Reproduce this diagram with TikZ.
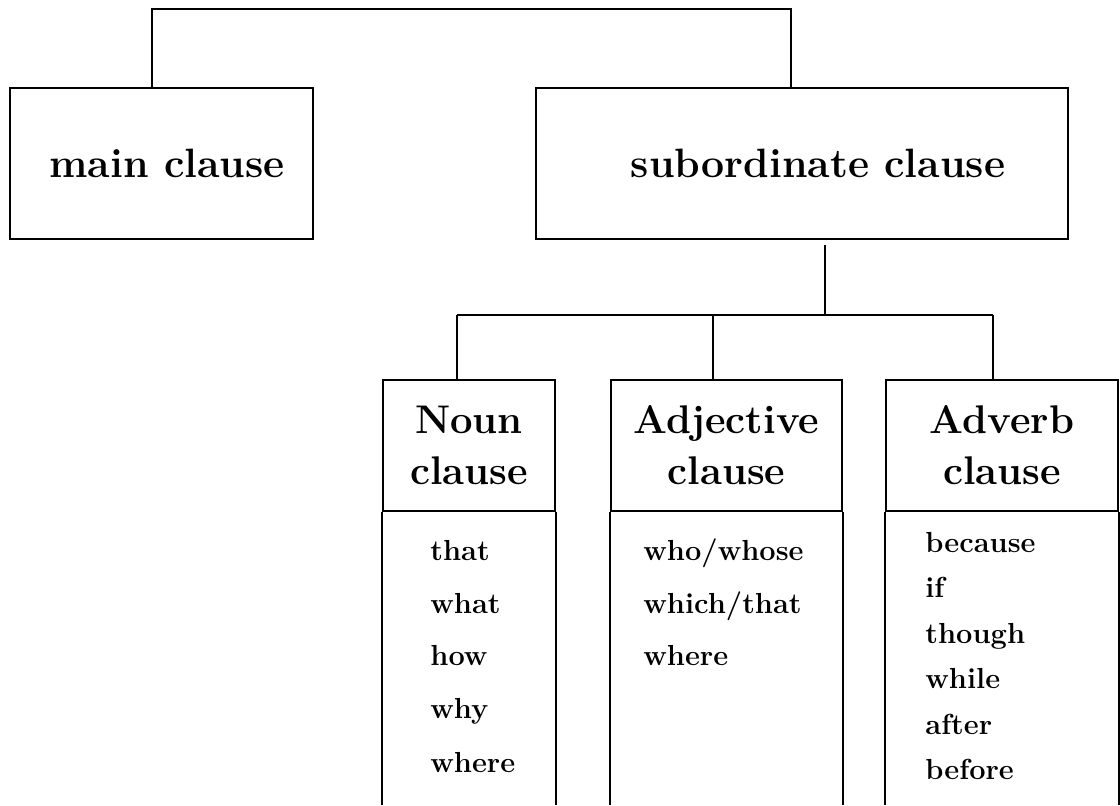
\documentclass[tikz,border=0pt]{standalone}
\usepackage{fontspec}
\begin{document}
\begin{tikzpicture}[x=0.5pt,y=-0.5pt,
  box/.style={draw, line width=1pt, inner sep=0pt},
  conn/.style={line width=1pt},
  bigtxt/.style={font=\fontsize{20.5}{24}\bfseries\selectfont},
  headtxt/.style={font=\fontsize{20}{25.5}\bfseries\selectfont, align=center},
  bodytxt/.style={font=\fontsize{14.5}{17}\bfseries\selectfont, anchor=base west, inner sep=0pt}]
\useasboundingbox (0,0) rectangle (1120,805);
% top level boxes
\node[box, bigtxt, minimum width=151.5pt, minimum height=75.5pt, anchor=north west] (main) at (9,87) {\hspace*{5.5pt}main clause};
\node[box, bigtxt, minimum width=266pt, minimum height=75.5pt, anchor=north west] (sub) at (535,87) {\hspace*{16pt}subordinate clause};
% connector between main and subordinate
\coordinate (t1) at (152,9);
\coordinate (t2) at (791,9);
\draw[conn] (main.north -| t1) -- (t1) -- (t2) -- (sub.north -| t2);
% lower headers
\node[box, headtxt, minimum width=86pt, minimum height=65.5pt, anchor=north west] (nounH) at (382,379) {Noun\\clause};
\node[box, headtxt, minimum width=115.5pt, minimum height=65.5pt, anchor=north west] (adjH) at (610,379) {Adjective\\clause};
\node[box, headtxt, minimum width=116pt, minimum height=65.5pt, anchor=north west] (advH) at (885,379) {Adverb\\clause};
% open bodies
\coordinate (bot) at (0,805);
\draw[conn] (nounH.south west) -- (nounH.south west |- bot);
\draw[conn] (nounH.south east) -- (nounH.south east |- bot);
\draw[conn] (adjH.south west) -- (adjH.south west |- bot);
\draw[conn] (adjH.south east) -- (adjH.south east |- bot);
\draw[conn] (advH.south west) -- (advH.south west |- bot);
\draw[conn] (advH.south east) -- (advH.south east |- bot);
% branch connectors
\coordinate (b0) at (825,315);
\coordinate (bl) at (457,315);
\coordinate (bm) at (713,315);
\coordinate (br) at (993,315);
\draw[conn] ([yshift=-2.5pt]sub.south -| b0) -- (b0);
\draw[conn] (bl) -- (br);
\draw[conn] (bl) -- (nounH.north -| bl);
\draw[conn] (bm) -- (adjH.north -| bm);
\draw[conn] (br) -- (advH.north -| br);
% noun list
\node[bodytxt] (n1) at (430,560) {that};
\node[bodytxt] (n2) at (430,613) {what};
\node[bodytxt] (n3) at (430,665) {how};
\node[bodytxt] (n4) at (430,718) {why};
\node[bodytxt] (n5) at (430,772) {where};
% adjective list
\node[bodytxt] (a1) at (643,560) {who/whose};
\node[bodytxt] (a2) at (643,613) {which/that};
\node[bodytxt] (a3) at (643,665) {where};
% adverb list
\node[bodytxt] (v1) at (925,552) {because};
\node[bodytxt] (v2) at (925,597) {if};
\node[bodytxt] (v3) at (925,643) {though};
\node[bodytxt] (v4) at (925,688) {while};
\node[bodytxt] (v5) at (925,734) {after};
\node[bodytxt] (v6) at (925,779) {before};
\end{tikzpicture}
\end{document}
